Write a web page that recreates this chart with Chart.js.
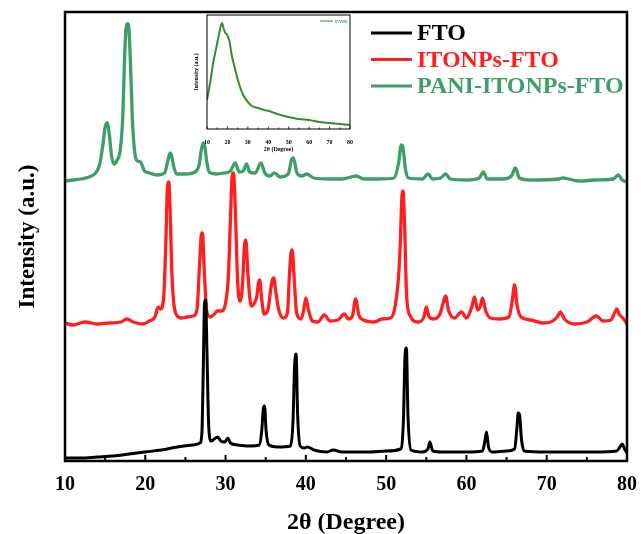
<!DOCTYPE html>
<html>
<head>
<meta charset="utf-8">
<script src="https://cdn.jsdelivr.net/npm/chart.js@4.4.0/dist/chart.umd.min.js"></script>
<style>
  body { margin: 0; background: #fff; }
  #wrap { position: relative; width: 641px; height: 534px; }
  #main { position: absolute; left: 0; top: 0; }
  #insetBox { position: absolute; left: 183px; top: 13px; width: 172px; height: 140px; }
</style>
</head>
<body>
<div id="wrap">
  <canvas id="main" width="641" height="534"></canvas>
  <div id="insetBox"><canvas id="inset" width="172" height="140"></canvas></div>
</div>
<script>
// XRD patterns (2theta in degrees, intensity in stacked a.u.)
const ftoTheta = [10, 12, 14, 16, 18, 20, 22, 24, 26, 26.8, 27.05, 27.22, 27.38, 27.52, 27.68, 27.9, 28.2, 28.6, 29.0, 29.4, 29.9, 30.3, 30.6, 31.5, 33, 34.2, 34.5, 34.7, 34.85, 35.05, 35.4, 36.5, 38.1, 38.4, 38.6, 38.78, 38.98, 39.3, 39.8, 40.2, 41, 42.6, 43.4, 44.5, 46, 48, 50, 51.8, 52.15, 52.35, 52.52, 52.72, 53.1, 54.5, 55.2, 55.45, 55.8, 57, 60, 62.0, 62.3, 62.5, 62.75, 63.2, 65, 66.0, 66.28, 66.45, 66.62, 66.85, 67.2, 70, 73, 76, 78.7, 79.2, 79.4, 79.7, 80];
const ftoIntensity = [3, 3, 4, 5, 7, 9, 11, 14, 16, 18, 28, 90, 158, 161, 110, 35, 20, 22, 24, 20, 19, 23, 18, 16, 15, 16, 30, 52, 55, 30, 16, 14, 15, 40, 95, 107, 45, 15, 13, 14, 11, 9, 11, 9, 9, 9, 10, 12, 40, 105, 113, 45, 11, 9, 12, 19, 10, 9, 9, 10, 20, 29, 14, 9, 10, 12, 32, 48, 46, 22, 10, 9, 9, 9, 10, 15, 17, 12, 8];

const itoTheta = [10, 11, 12.5, 14, 15.5, 17, 17.7, 18.5, 19.7, 20.5, 21.2, 21.6, 21.9, 22.3, 22.55, 22.75, 22.92, 23.08, 23.3, 23.55, 23.9, 24.5, 25.2, 26.0, 26.45, 26.75, 26.98, 27.12, 27.35, 27.65, 28.1, 28.6, 29.0, 29.5, 30.0, 30.35, 30.6, 30.82, 30.98, 31.2, 31.5, 31.8, 32.1, 32.35, 32.52, 32.8, 33.2, 33.6, 33.9, 34.1, 34.25, 34.5, 34.8, 35.3, 35.6, 35.85, 36.0, 36.25, 36.6, 37.2, 37.7, 37.95, 38.15, 38.3, 38.55, 38.85, 39.4, 39.75, 40.0, 40.3, 40.8, 41.5, 42.3, 43.0, 44.0, 44.8, 45.3, 45.8, 46.2, 46.6, 47.2, 48.5, 49.5, 50.5, 51.0, 51.5, 51.75, 51.95, 52.1, 52.3, 52.55, 53.0, 54.0, 54.7, 55.0, 55.3, 55.9, 56.7, 57.1, 57.4, 57.8, 58.5, 59.4, 60.0, 60.7, 61.0, 61.4, 61.7, 62.0, 62.4, 63, 64, 65.3, 65.7, 66.0, 66.3, 66.8, 68, 69.5, 70.5, 71.3, 71.7, 72.2, 73.5, 75, 76.2, 77, 78.0, 78.5, 78.75, 79.0, 79.5, 80];
const itoIntensity = [138, 136, 139, 137, 138, 139, 142, 139, 137, 140, 144, 154, 152, 165, 215, 272, 279, 255, 190, 158, 146, 143, 144, 145, 152, 195, 226, 228, 190, 150, 144, 147, 150, 150, 158, 185, 240, 285, 288, 255, 180, 160, 175, 215, 221, 185, 155, 158, 165, 178, 181, 162, 147, 152, 170, 182, 183, 170, 152, 143, 148, 185, 208, 211, 182, 148, 142, 152, 163, 152, 140, 139, 146, 140, 141, 147, 142, 145, 162, 146, 141, 139, 142, 143, 150, 180, 215, 262, 270, 235, 165, 145, 139, 144, 154, 145, 142, 147, 158, 165, 150, 143, 149, 143, 155, 164, 151, 154, 163, 150, 143, 142, 144, 160, 176, 156, 144, 141, 138, 139, 144, 149, 142, 137, 139, 145, 140, 141, 149, 152, 147, 143, 137];

const paniItoTheta = [10, 11, 12, 13, 13.8, 14.3, 14.7, 15.0, 15.25, 15.5, 15.8, 16.1, 16.5, 16.9, 17.2, 17.45, 17.68, 17.88, 18.12, 18.4, 18.7, 19.0, 19.4, 19.9, 20.5, 21.5, 22.4, 22.8, 23.1, 23.25, 23.5, 23.9, 25, 26.2, 26.7, 27.0, 27.2, 27.4, 27.65, 27.95, 28.8, 29.8, 30.6, 31.2, 31.7, 32.2, 32.6, 33.0, 33.7, 34.4, 34.9, 35.5, 36.1, 36.8, 37.8, 38.25, 38.45, 38.9, 39.5, 40.1, 41, 43, 44.5, 46.3, 47.2, 49, 51.0, 51.55, 51.88, 52.08, 52.4, 52.8, 54.5, 55.2, 55.8, 56.8, 57.4, 58, 60, 61.6, 62.1, 62.6, 64.5, 65.6, 66.1, 66.6, 68, 71.5, 72, 74, 76, 78.3, 78.9, 79.4, 80];
const paniItoIntensity = [280, 281, 282, 284, 288, 296, 315, 334, 338, 328, 305, 297, 301, 312, 345, 410, 437, 437, 405, 340, 308, 300, 299, 290, 288, 286, 288, 300, 308, 306, 296, 287, 287, 289, 296, 312, 318, 315, 300, 289, 287, 288, 290, 298, 289, 290, 297, 289, 288, 298, 288, 285, 288, 284, 287, 302, 303, 288, 285, 287, 283, 282, 282, 285, 282, 282, 283, 298, 316, 314, 292, 283, 282, 287, 282, 283, 287, 282, 281, 283, 289, 282, 282, 285, 293, 283, 281, 282, 283, 280, 281, 282, 286, 281, 279];

// inset: pure PANI
const paniTheta = [10, 11, 12, 13, 14, 15, 16, 17.3, 18.2, 19.0, 19.6, 20.3, 21.0, 22.0, 23.5, 25, 26.5, 28, 30, 32, 35, 38, 40.5, 43, 46, 50, 55, 60, 65, 70, 75, 80];
const paniIntensity = [29, 40, 52, 66, 76, 86, 96, 106, 100, 96, 95, 92, 88, 75, 62, 50, 40, 33, 27, 23, 21, 19, 18, 16, 14, 12, 10, 9, 7, 6, 5, 4];

const seriesNames = ["FTO", "ITONPs-FTO", "PANI-ITONPs-FTO"];
const seriesColors = ["#000000", "#ff1f1f", "#3e9e68"];
const insetName = "PANI";
const insetColor = "#2f8f2f";

const serif = "'Liberation Serif', 'Times New Roman', serif";

function pts(xs, ys) {
  return xs.map((x, i) => ({ x: x, y: ys[i] }));
}

// frame around the plot area and inward ticks on the x axis
const frameTicks = {
  id: "frameTicks",
  afterDatasetsDraw(chart, args, opts) {
    const { ctx, chartArea: a, scales: { x } } = chart;
    ctx.save();
    ctx.strokeStyle = "#000";
    ctx.lineWidth = opts.tickWidth;
    const n = Math.round((x.max - x.min) / 5);
    for (let i = 0; i <= n; i++) {
      const v = x.min + i * 5;
      const px = x.getPixelForValue(v);
      const len = i % 2 === 0 ? opts.major : opts.minor;
      ctx.beginPath();
      ctx.moveTo(px, a.bottom);
      ctx.lineTo(px, a.bottom - len);
      ctx.stroke();
    }
    ctx.lineWidth = opts.frame;
    ctx.strokeRect(a.left, a.top, a.right - a.left, a.bottom - a.top);
    ctx.restore();
  }
};

// legend drawn as a column of line + label
const lineLegend = {
  id: "lineLegend",
  afterDraw(chart, args, opts) {
    const ctx = chart.ctx;
    ctx.save();
    ctx.font = "bold " + opts.size + "px " + serif;
    ctx.textBaseline = "middle";
    ctx.textAlign = "left";
    chart.data.datasets.forEach((ds, i) => {
      const y = opts.y + i * opts.gap;
      ctx.strokeStyle = ds.borderColor;
      ctx.lineWidth = opts.lineWidth;
      ctx.beginPath();
      ctx.moveTo(opts.x, y);
      ctx.lineTo(opts.x + opts.len, y);
      ctx.stroke();
      ctx.fillStyle = ds.borderColor;
      ctx.fillText(ds.label, opts.x + opts.len + opts.space, y + 1);
    });
    ctx.restore();
  }
};

const mainData = [
  pts(ftoTheta, ftoIntensity),
  pts(itoTheta, itoIntensity),
  pts(paniItoTheta, paniItoIntensity)
];

new Chart(document.getElementById("main"), {
  type: "line",
  data: {
    datasets: mainData.map((d, i) => ({
      label: seriesNames[i],
      data: d,
      borderColor: seriesColors[i],
      borderWidth: i === 0 ? 3 : 3.3,
      pointRadius: 0,
      cubicInterpolationMode: "monotone"
    }))
  },
  options: {
    responsive: false,
    animation: false,
    layout: { padding: { top: 12, right: 13, bottom: 0, left: 0 } },
    plugins: {
      legend: { display: false },
      tooltip: { enabled: false },
      frameTicks: { tickWidth: 2, major: 6, minor: 4, frame: 2.5 },
      lineLegend: { x: 371, y: 33, gap: 26.5, len: 41, space: 5, size: 24, lineWidth: 3 }
    },
    scales: {
      x: {
        type: "linear",
        min: 10,
        max: 80,
        afterFit: (s) => { s.height = 73; },
        ticks: { stepSize: 10, color: "#000", padding: 4, font: { family: serif, size: 20, weight: "bold" } },
        grid: { display: false },
        border: { display: false },
        title: { display: true, text: "2θ (Degree)", color: "#000", padding: { top: 0, bottom: -3 }, font: { family: serif, size: 24, weight: "bold" } }
      },
      y: {
        min: 0,
        max: 449,
        afterFit: (s) => { s.width = 65; },
        ticks: { display: false },
        grid: { display: false },
        border: { display: false },
        title: { display: true, text: "Intensity (a.u.)", color: "#000", padding: { top: 14, bottom: 0 }, font: { family: serif, size: 23, weight: "bold" } }
      }
    }
  },
  plugins: [frameTicks, lineLegend]
});

new Chart(document.getElementById("inset"), {
  type: "line",
  data: {
    datasets: [{
      label: insetName,
      data: pts(paniTheta, paniIntensity),
      borderColor: insetColor,
      borderWidth: 2,
      pointRadius: 0,
      cubicInterpolationMode: "monotone"
    }]
  },
  options: {
    responsive: false,
    animation: false,
    layout: { padding: { top: 2, right: 3, bottom: 0, left: 0 } },
    plugins: {
      legend: { display: false },
      tooltip: { enabled: false },
      frameTicks: { tickWidth: 0.8, major: 2.5, minor: 1.5, frame: 1 },
      lineLegend: { x: 137, y: 8, gap: 8, len: 13, space: 2, size: 5, lineWidth: 1 }
    },
    scales: {
      x: {
        type: "linear",
        min: 10,
        max: 80,
        afterFit: (s) => { s.height = 24; },
        ticks: { stepSize: 10, color: "#000", padding: 2, font: { family: serif, size: 6, weight: "bold" } },
        grid: { display: false },
        border: { display: false },
        title: { display: true, text: "2θ (Degree)", color: "#000", padding: 0, font: { family: serif, size: 6, weight: "bold" } }
      },
      y: {
        min: 0,
        max: 114,
        afterFit: (s) => { s.width = 24; },
        ticks: { display: false },
        grid: { display: false },
        border: { display: false },
        title: { display: true, text: "Intensity (a.u.)", color: "#000", padding: { top: 10, bottom: 0 }, font: { family: serif, size: 6, weight: "bold" } }
      }
    }
  },
  plugins: [frameTicks, lineLegend]
});
</script>
</body>
</html>
